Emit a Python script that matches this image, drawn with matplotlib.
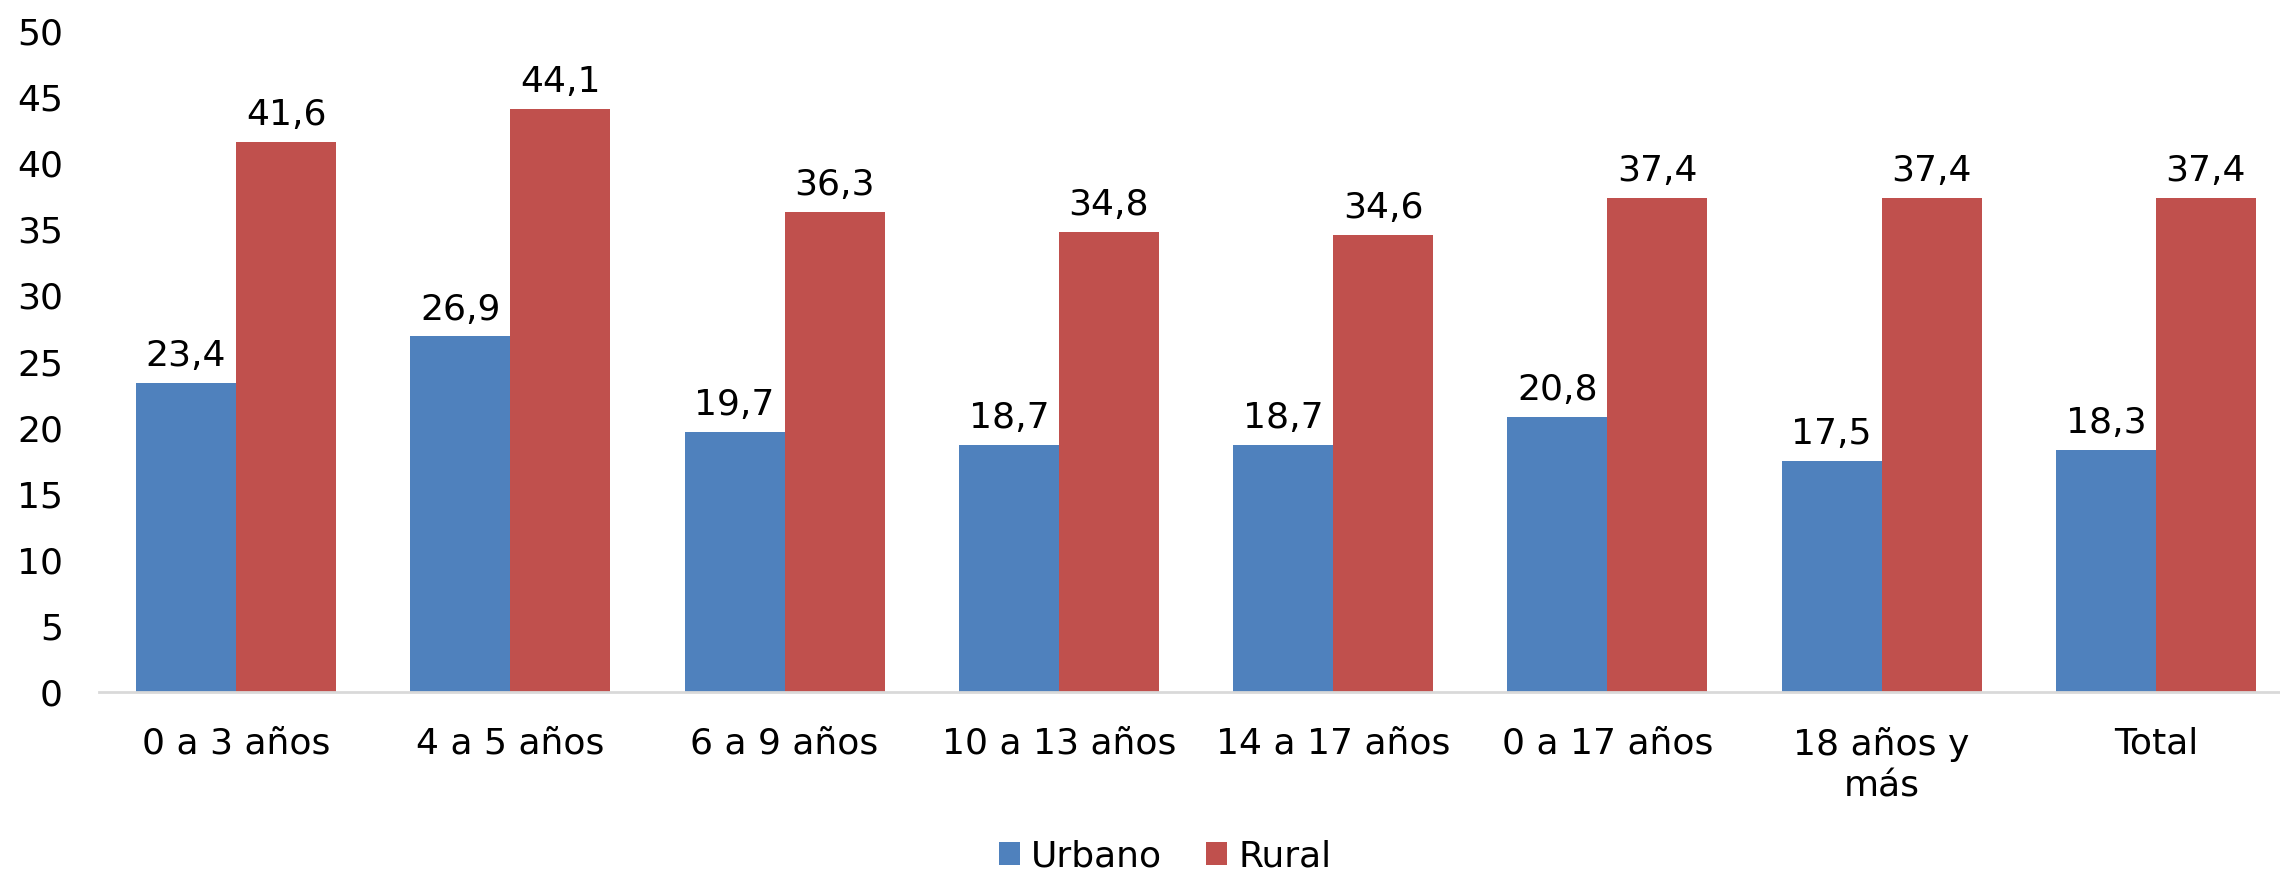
import matplotlib.pyplot as plt
import numpy as np

categorias = ["0 a 3 años", "4 a 5 años", "6 a 9 años", "10 a 13 años",
              "14 a 17 años", "0 a 17 años", "18 años y\nmás", "Total"]
urbano = [23.4, 26.9, 19.7, 18.7, 18.7, 20.8, 17.5, 18.3]
rural = [41.6, 44.1, 36.3, 34.8, 34.6, 37.4, 37.4, 37.4]
yticks = [0, 5, 10, 15, 20, 25, 30, 35, 40, 45, 50]

plt.rcParams['font.family'] = ['DejaVu Sans']
fs = 26

fig = plt.figure(figsize=(22.8, 8.72), dpi=100)
ax = fig.add_axes([99/2280, 180/872, 2194/2280, 661/872])

x = np.arange(len(categorias))
w = 0.365
b1 = ax.bar(x - w/2, urbano, w, color="#4F81BD", label="Urbano")
b2 = ax.bar(x + w/2, rural, w, color="#C0504D", label="Rural")

for bars, vals in ((b1, urbano), (b2, rural)):
    for r, v in zip(bars, vals):
        ax.annotate(f"{v:.1f}".replace(".", ","),
                    (r.get_x() + r.get_width()/2, v),
                    xytext=(0, 7), textcoords="offset points",
                    ha="center", va="bottom", fontsize=fs)

ax.set_xlim(-0.5, 7.5)
ax.set_ylim(0, 50)
ax.set_yticks(yticks)
ax.set_xticks(x)
ax.set_xticklabels(categorias, fontsize=fs, linespacing=1.3)
ax.tick_params(axis="y", labelsize=fs, length=0, pad=26)
ax.tick_params(axis="x", length=0, pad=25)
for s in ("top", "right", "left"):
    ax.spines[s].set_visible(False)
ax.spines["bottom"].set_color("#D9D9D9")
ax.spines["bottom"].set_linewidth(2)

fig.legend(handles=[b1, b2], loc="center", bbox_to_anchor=(0.511, 0.018),
           ncol=2, frameon=False, fontsize=fs, handlelength=0.6,
           handleheight=0.6, handletextpad=0.3, columnspacing=1.2)

plt.savefig("out.png", dpi=100)
